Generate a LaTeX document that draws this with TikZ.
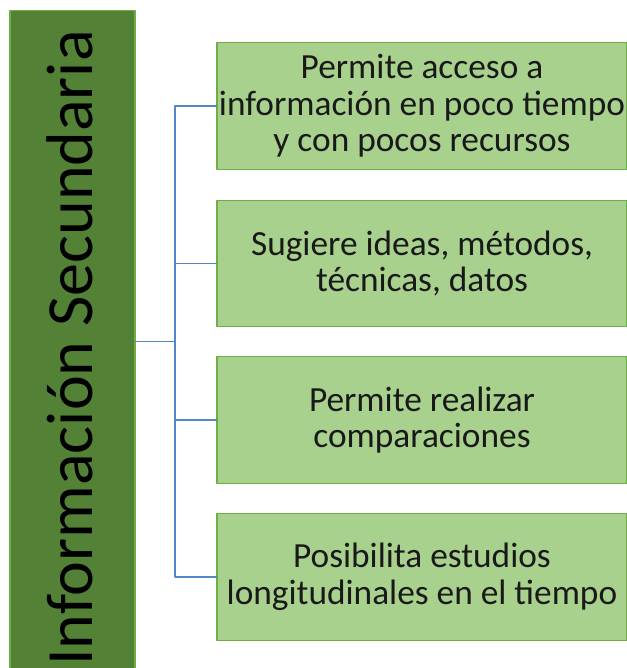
\documentclass[tikz,border=0pt]{standalone}
\usepackage{fontspec}
\setmainfont{Carlito}
\definecolor{darkleaf}{HTML}{538135}
\definecolor{leafline}{HTML}{70AD47}
\definecolor{lightleaf}{HTML}{A9D18E}
\definecolor{linkblue}{HTML}{5087C4}
\tikzset{
  mainbox/.style={draw=leafline, fill=darkleaf, line width=1pt, minimum width=93.75pt, minimum height=502pt, inner sep=0pt},
  itembox/.style={draw=leafline, fill=lightleaf, line width=1pt, minimum width=307.5pt, minimum height=94.9pt, inner sep=0pt, align=center, font=\fontsize{26.5}{27.5}\selectfont, text=black!90},
  link/.style={draw=linkblue, line width=1.3pt}
}
\begin{document}
\begin{tikzpicture}[line cap=round, line join=round, x=0.75pt, y=0.75pt]
                \useasboundingbox (0, 0) rectangle (627, 668);
                \clip (0, 0) rectangle (627, 668);
                \node[mainbox] (main) at (72.5, 322.5) {};
                \node[rotate=90, font=\fontsize{49.5}{52}\selectfont] (title) at (70, 320) {Información Secundaria};
                \coordinate (fork) at (175, 326.5);
                \coordinate (start) at (135, 326.5);
                \foreach \item/\ypos/\txt in {a/562/{Permite acceso a\\información en poco tiempo\\y con pocos recursos},
                    b/404.5/{Sugiere ideas, métodos,\\técnicas, datos},
                    c/248/{Permite realizar\\comparaciones},
                    d/91/{Posibilita estudios\\longitudinales en el tiempo}}
                    \node[itembox] (\item) at (422, \ypos) {\txt};
                \draw[link] (start) -- (fork);
                \foreach \item in {a, b, c, d}
                    \draw[link] (fork) |- (\item.west);
            \end{tikzpicture}
\end{document}
